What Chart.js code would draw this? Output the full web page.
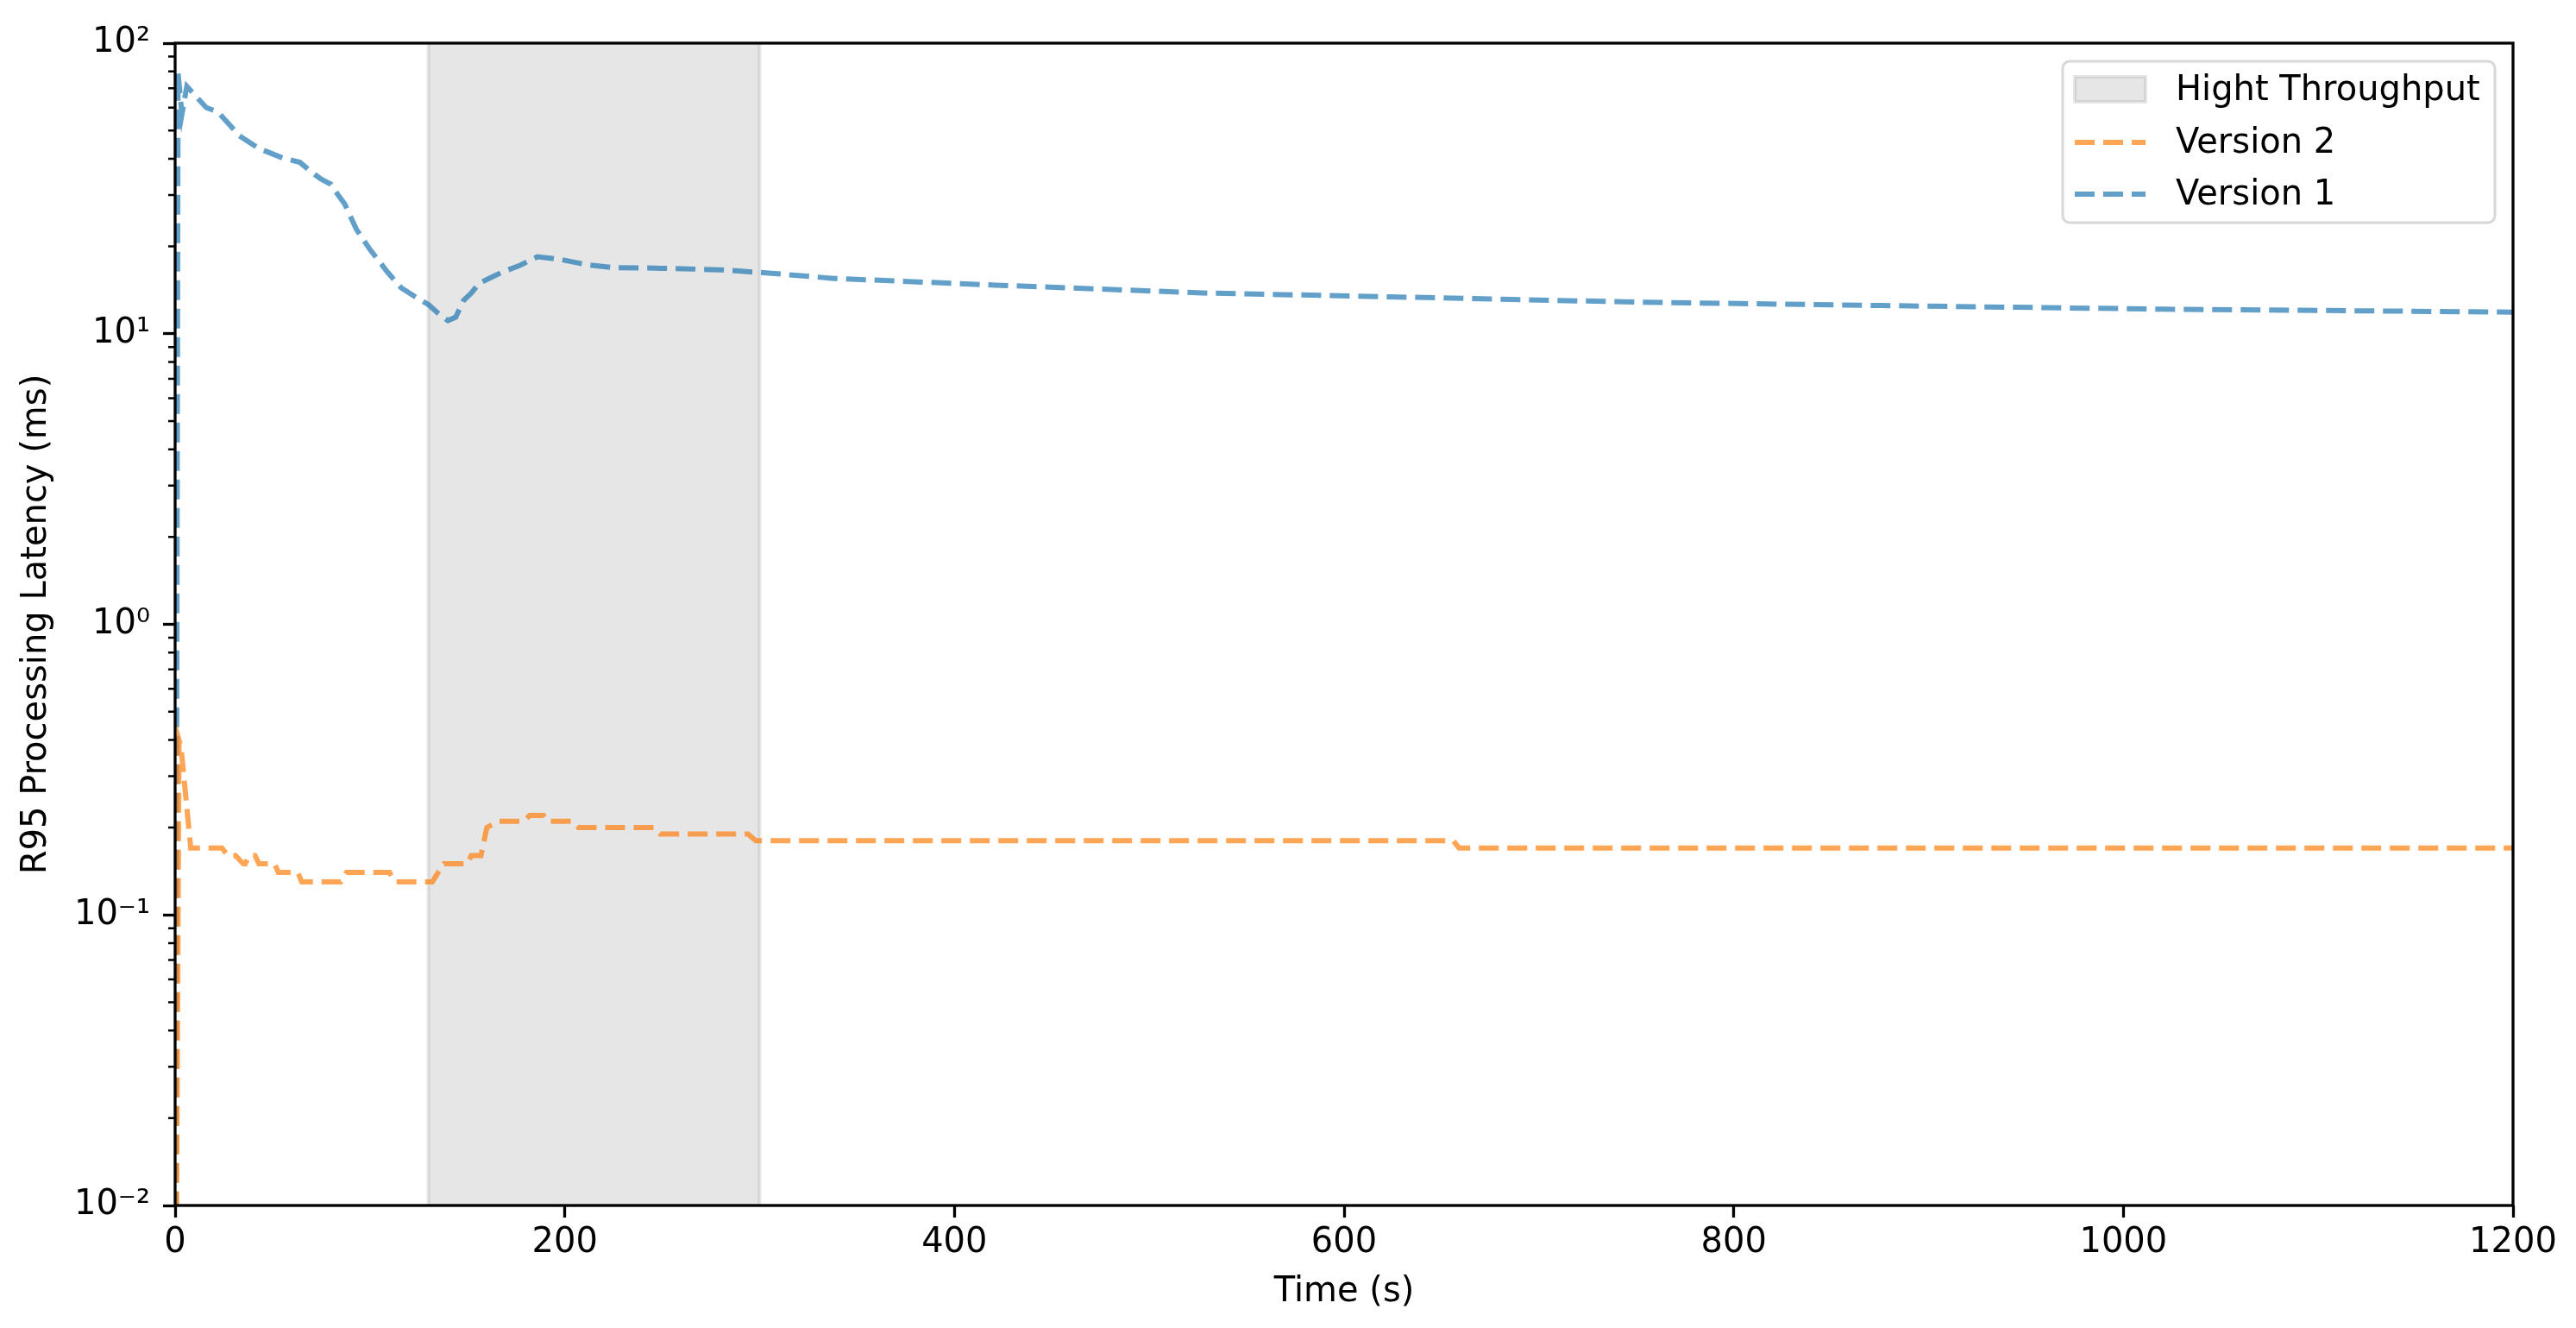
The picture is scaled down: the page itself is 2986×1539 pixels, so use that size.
<!DOCTYPE html>
<html>
<head>
<meta charset="utf-8">
<script src="https://cdn.jsdelivr.net/npm/chart.js@4.4.0/dist/chart.umd.min.js"></script>
<style>
  html, body { margin: 0; padding: 0; background: #fff; }
</style>
</head>
<body>
<canvas id="latencyChart" width="2986" height="1539"></canvas>
<script>
// Version 1 (blue) R95 latency, ms
const v1Time = [0, 1.5, 3.5, 6, 16, 22, 33, 43, 55, 64, 70, 75, 80, 84, 87, 93, 100, 109, 116, 124,
  130, 136, 140, 144, 148, 152, 156, 162, 168, 177, 186, 198, 211, 224, 250, 280, 306, 338, 421, 530,
  623, 749, 876, 1020, 1200];
const v1Latency = [0.001, 79, 57, 71, 60, 58, 48, 43.4, 40.3, 38.9, 36, 34, 32.7, 29.8, 28, 22.9, 19.5, 16.3, 14.4, 13.3,
  12.6, 11.6, 11.1, 11.4, 13.0, 13.8, 14.9, 15.6, 16.3, 17.2, 18.4, 18.0, 17.3, 16.9, 16.8, 16.6, 16.15, 15.5, 14.7, 13.8,
  13.4, 12.85, 12.5, 12.15, 11.87];

// Version 2 (orange) R95 latency, ms
const v2Time = [0, 2, 3, 8, 24, 27, 31, 35, 36, 38, 41, 43, 51, 53, 63, 65, 85, 88, 110, 113,
  132, 135, 138, 150, 152, 157, 160, 166, 179, 182, 189, 191, 204, 207, 246, 249, 294, 298, 656, 659,
  1200];
const v2Latency = [0.001, 0.4, 0.38, 0.17, 0.17, 0.16, 0.16, 0.15, 0.15, 0.16, 0.16, 0.15, 0.15, 0.14, 0.14, 0.13, 0.13, 0.14, 0.14, 0.13,
  0.13, 0.14, 0.15, 0.15, 0.16, 0.16, 0.20, 0.21, 0.21, 0.22, 0.22, 0.21, 0.21, 0.20, 0.20, 0.19, 0.19, 0.18, 0.18, 0.17,
  0.17];

// high throughput window (s)
const highThroughput = [130, 300];

const xTicks = [0, 200, 400, 600, 800, 1000, 1200];
const yTicks = [0.01, 0.1, 1, 10, 100];
const yTickLabels = ['10⁻²', '10⁻¹', '10⁰', '10¹', '10²'];
const yMinorTicks = [];
yTicks.slice(0, -1).forEach(d => { for (let m = 2; m <= 9; m++) yMinorTicks.push(d * m); });

const labels = ['Hight Throughput', 'Version 2', 'Version 1'];

const toXY = (ts, vs) => ts.map((t, i) => ({ x: t, y: vs[i] }));

const BLUE = 'rgba(31,119,180,0.7)';
const ORANGE = 'rgba(255,127,14,0.7)';
const BAND = 'rgba(128,128,128,0.2)';
const FONT = 'DejaVu Sans';

Chart.defaults.font.family = FONT;
Chart.defaults.color = '#000';

// grey window behind the lines
const bandPlugin = {
  id: 'band',
  beforeDatasetsDraw(chart) {
    const { ctx, chartArea: a, scales: { x } } = chart;
    const x0 = x.getPixelForValue(highThroughput[0]);
    const x1 = x.getPixelForValue(highThroughput[1]);
    ctx.save();
    ctx.fillStyle = BAND;
    ctx.fillRect(x0, a.top, x1 - x0, a.bottom - a.top);
    ctx.strokeStyle = BAND;
    ctx.lineWidth = 4;
    ctx.beginPath();
    ctx.moveTo(x0, a.top); ctx.lineTo(x0, a.bottom);
    ctx.moveTo(x1, a.top); ctx.lineTo(x1, a.bottom);
    ctx.stroke();
    ctx.restore();
  }
};

// frame, minor ticks, legend
const framePlugin = {
  id: 'frame',
  afterDraw(chart) {
    const { ctx, chartArea: a, scales: { y } } = chart;
    ctx.save();
    ctx.strokeStyle = '#000';
    ctx.lineWidth = 2.5;
    ctx.beginPath();
    yMinorTicks.forEach(v => {
      const py = y.getPixelForValue(v);
      ctx.moveTo(a.left - 8, py); ctx.lineTo(a.left, py);
    });
    ctx.stroke();
    ctx.lineWidth = 3.3;
    ctx.strokeRect(a.left, a.top, a.right - a.left, a.bottom - a.top);

    // legend
    const bx = a.right - 522, by = a.top + 21, bw = 501, bh = 187;
    ctx.beginPath();
    ctx.roundRect(bx, by, bw, bh, 8);
    ctx.fillStyle = 'rgba(255,255,255,0.8)';
    ctx.fill();
    ctx.strokeStyle = '#d8d8d8';
    ctx.lineWidth = 3;
    ctx.stroke();

    const hx = bx + 14, hw = 82, tx = bx + 131;
    const rows = [by + 33, by + 94, by + 154];
    ctx.fillStyle = BAND;
    ctx.fillRect(hx, rows[0] - 15, hw, 29);
    ctx.strokeStyle = BAND;
    ctx.lineWidth = 4;
    ctx.strokeRect(hx, rows[0] - 15, hw, 29);

    ctx.lineWidth = 6;
    ctx.setLineDash([23, 10]);
    [ORANGE, BLUE].forEach((c, i) => {
      ctx.strokeStyle = c;
      ctx.beginPath();
      ctx.moveTo(hx, rows[i + 1]); ctx.lineTo(hx + hw, rows[i + 1]);
      ctx.stroke();
    });
    ctx.setLineDash([]);

    ctx.fillStyle = '#000';
    ctx.font = '40px "' + FONT + '"';
    ctx.textBaseline = 'middle';
    ctx.textAlign = 'left';
    labels.forEach((l, i) => ctx.fillText(l, tx, rows[i] + 2));
    ctx.restore();
  }
};

new Chart(document.getElementById('latencyChart'), {
  type: 'line',
  data: {
    datasets: [
      {
        label: labels[1],
        data: toXY(v2Time, v2Latency),
        borderColor: ORANGE,
        borderWidth: 6,
        borderDash: [23, 10],
        pointRadius: 0,
        fill: false,
        tension: 0
      },
      {
        label: labels[2],
        data: toXY(v1Time, v1Latency),
        borderColor: BLUE,
        borderWidth: 6,
        borderDash: [23, 10],
        pointRadius: 0,
        fill: false,
        tension: 0
      }
    ]
  },
  options: {
    responsive: false,
    animation: false,
    layout: { padding: { top: 50, right: 73, left: 0, bottom: 0 } },
    plugins: {
      legend: { display: false },
      tooltip: { enabled: false }
    },
    scales: {
      x: {
        type: 'linear',
        min: 0,
        max: 1200,
        afterBuildTicks: s => { s.ticks = xTicks.map(v => ({ value: v })); },
        afterFit: s => { s.height = 142; },
        ticks: { font: { size: 40 }, color: '#000', padding: 6, maxRotation: 0, callback: v => String(v) },
        grid: { drawOnChartArea: false, drawTicks: true, tickLength: 14, tickWidth: 3.3, tickColor: '#000' },
        border: { display: false },
        title: { display: true, text: 'Time (s)', font: { size: 40 }, color: '#000', padding: { top: 0, bottom: 17 } }
      },
      y: {
        type: 'logarithmic',
        min: 0.01,
        max: 100,
        afterBuildTicks: s => { s.ticks = yTicks.map(v => ({ value: v, major: true })); },
        afterFit: s => { s.width = 203; },
        ticks: {
          font: { size: 40 },
          color: '#000',
          padding: 15,
          callback: v => yTickLabels[yTicks.indexOf(v)]
        },
        grid: { drawOnChartArea: false, drawTicks: true, tickLength: 14, tickWidth: 3.3, tickColor: '#000' },
        border: { display: false },
        title: { display: true, text: 'R95 Processing Latency (ms)', font: { size: 40 }, color: '#000', padding: { top: 19, bottom: 0 } }
      }
    }
  },
  plugins: [bandPlugin, framePlugin]
});
</script>
</body>
</html>
